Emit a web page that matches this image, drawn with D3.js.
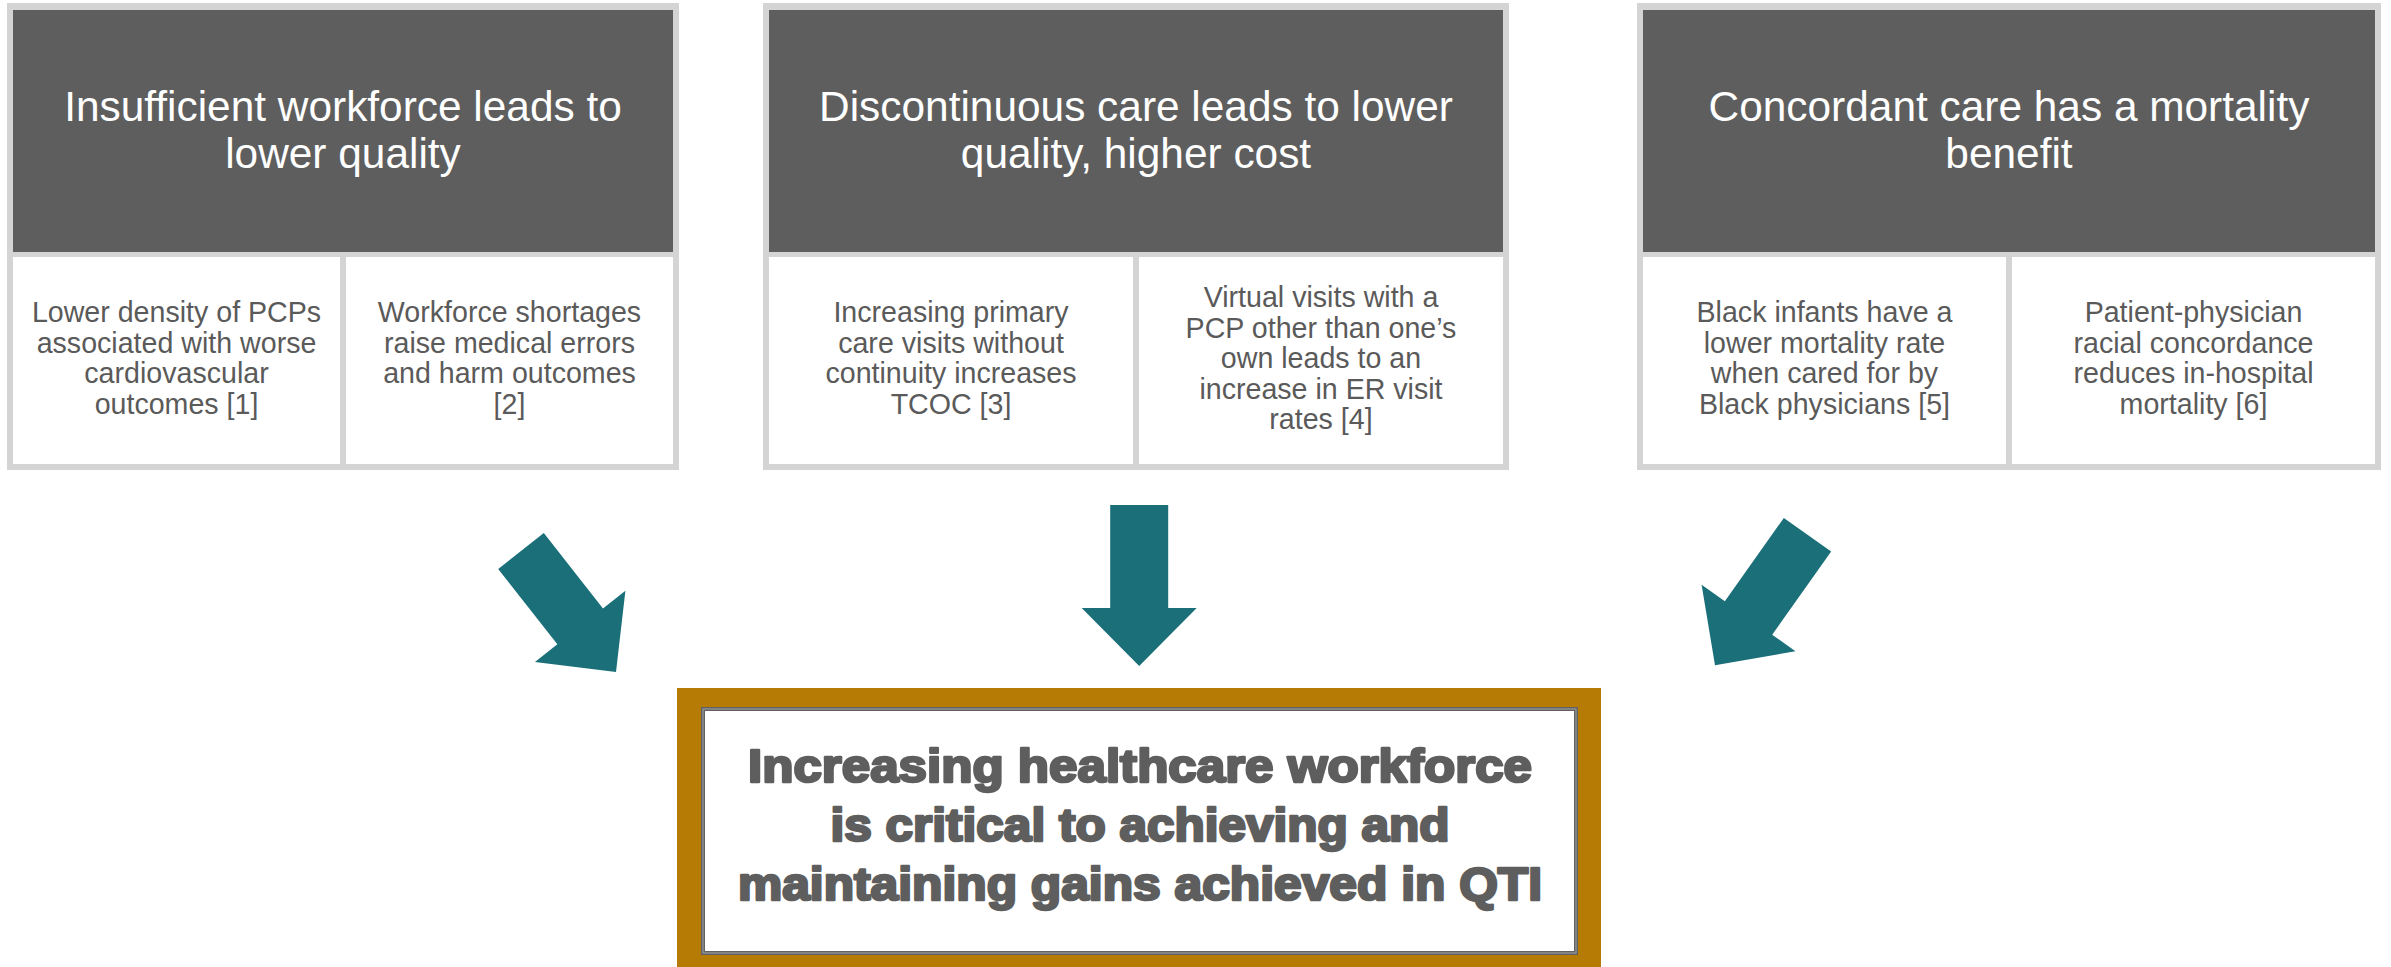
<!DOCTYPE html>
<html>
<head>
<meta charset="utf-8">
<script src="https://cdn.jsdelivr.net/npm/d3@7"></script>
<style>
  html, body { margin: 0; padding: 0; background: #ffffff; }
  svg { display: block; }
</style>
</head>
<body>
<div id="chart"></div>
<script>
// ---------- data ----------
const panelTitles = [
  ["Insufficient workforce leads to", "lower quality"],
  ["Discontinuous care leads to lower", "quality, higher cost"],
  ["Concordant care has a mortality", "benefit"]
];
const leftFindings = [
  ["Lower density of PCPs", "associated with worse", "cardiovascular", "outcomes [1]"],
  ["Increasing primary", "care visits without", "continuity increases", "TCOC [3]"],
  ["Black infants have a", "lower mortality rate", "when cared for by", "Black physicians [5]"]
];
const rightFindings = [
  ["Workforce shortages", "raise medical errors", "and harm outcomes", "[2]"],
  ["Virtual visits with a", "PCP other than one\u2019s", "own leads to an", "increase in ER visit", "rates [4]"],
  ["Patient-physician", "racial concordance", "reduces in-hospital", "mortality [6]"]
];
const conclusion = [
  "Increasing healthcare workforce",
  "is critical to achieving and",
  "maintaining gains achieved in QTI"
];

// ---------- layout (positions / styles) ----------
const W = 2391, H = 967;
const panelX = [[7, 679], [763, 1509], [1637, 2381]];  // outer x extents
const outerTop = 3, outerBottom = 470, border = 6;
const headerTop = 10, headerBottom = 252, cellTop = 257, cellBottom = 464;
const colors = {
  border: "#d4d4d4", header: "#5e5e5e", cellText: "#5a5a5a",
  arrow: "#1a6f79", gold: "#b67b05", frame: "#616161", frameMid: "#9a9a9a",
  conclusion: "#5e5e5e"
};
// arrows: tail centre and tip
const arrows = [
  { tail: [521, 551], tip: [616, 672] },
  { tail: [1139.2, 505], tip: [1139.2, 666] },
  { tail: [1807.5, 534.7], tip: [1715, 665.3] }
];
const shaftW = 58, headW = 115, headL = 58;

const svg = d3.select("#chart").append("svg")
  .attr("width", W).attr("height", H)
  .attr("viewBox", `0 0 ${W} ${H}`);

const font = "'Liberation Sans', Arial, Helvetica, sans-serif";

function multiline(sel, lines, cx, cy, size, lh, offset) {
  const n = lines.length;
  sel.selectAll("text.l").data(lines).join("text")
    .attr("class", "l")
    .attr("x", cx)
    .attr("y", (d, i) => cy + offset + (i - (n - 1) / 2) * lh)
    .attr("text-anchor", "middle")
    .attr("font-family", font)
    .attr("font-size", size)
    .text(d => d);
}

// ---------- panels ----------
const panels = svg.selectAll("g.panel")
  .data(panelTitles.map((t, i) => ({ title: t, left: leftFindings[i], right: rightFindings[i], x: panelX[i] })))
  .join("g").attr("class", "panel");

panels.append("rect")
  .attr("x", d => d.x[0]).attr("y", outerTop)
  .attr("width", d => d.x[1] - d.x[0]).attr("height", outerBottom - outerTop)
  .attr("fill", colors.border);

panels.append("rect")
  .attr("x", d => d.x[0] + border).attr("y", headerTop)
  .attr("width", d => d.x[1] - d.x[0] - 2 * border).attr("height", headerBottom - headerTop)
  .attr("fill", colors.header);

panels.each(function (d) {
  const g = d3.select(this);
  const x0 = d.x[0] + border, x1 = d.x[1] - border, mid = (x0 + x1) / 2;
  const cells = [
    { x: x0, w: mid - 3 - x0, lines: d.left },
    { x: mid + 3, w: x1 - mid - 3, lines: d.right }
  ];
  g.selectAll("rect.cell").data(cells).join("rect")
    .attr("class", "cell")
    .attr("x", c => c.x).attr("y", cellTop)
    .attr("width", c => c.w).attr("height", cellBottom - cellTop)
    .attr("fill", "#ffffff");

  const ht = g.append("g").attr("fill", "#ffffff");
  multiline(ht, d.title, mid, (headerTop + headerBottom) / 2, 42.4, 47.6, 13.5);

  cells.forEach(c => {
    const ct = g.append("g").attr("fill", colors.cellText);
    multiline(ct, c.lines, c.x + c.w / 2, (cellTop + cellBottom) / 2, 28.6, 30.5, 7.5);
  });
});

// ---------- arrows ----------
const line = d3.line();
function arrowPoly(a) {
  const [tx, ty] = a.tail, [px, py] = a.tip;
  const L = Math.hypot(px - tx, py - ty);
  const ux = (px - tx) / L, uy = (py - ty) / L;
  const nx = -uy, ny = ux;
  const bx = px - ux * headL, by = py - uy * headL;
  const sw = shaftW / 2, hw = headW / 2;
  return [
    [tx + nx * sw, ty + ny * sw],
    [bx + nx * sw, by + ny * sw],
    [bx + nx * hw, by + ny * hw],
    [px, py],
    [bx - nx * hw, by - ny * hw],
    [bx - nx * sw, by - ny * sw],
    [tx - nx * sw, ty - ny * sw]
  ];
}
svg.selectAll("path.arrow").data(arrows).join("path")
  .attr("class", "arrow")
  .attr("d", d => line(arrowPoly(d)) + "Z")
  .attr("fill", colors.arrow);

// ---------- conclusion box ----------
const box = { x0: 677, x1: 1601, y0: 688, y1: 975 };
const frame = { x0: 701, x1: 1578, y0: 707, y1: 955 };
svg.append("rect")
  .attr("x", box.x0).attr("y", box.y0)
  .attr("width", box.x1 - box.x0).attr("height", box.y1 - box.y0)
  .attr("fill", colors.gold);
[[0, colors.frame], [1.4, colors.frameMid], [2.6, colors.frame], [4, "#ffffff"]].forEach(([ins, c]) => {
  svg.append("rect")
    .attr("x", frame.x0 + ins).attr("y", frame.y0 + ins)
    .attr("width", frame.x1 - frame.x0 - 2 * ins).attr("height", frame.y1 - frame.y0 - 2 * ins)
    .attr("fill", c);
});
const conclusionWidths = [784, 619, 804];
const cg = svg.append("g");
cg.selectAll("text").data(conclusion).join("text")
  .attr("x", 1140)
  .attr("y", (d, i) => 781.7 + i * 59.1)
  .attr("text-anchor", "middle")
  .attr("font-family", font)
  .attr("font-weight", "bold")
  .attr("font-size", 46)
  .attr("fill", colors.conclusion)
  .attr("stroke", colors.conclusion)
  .attr("stroke-width", 2.6)
  .attr("stroke-linejoin", "round")
  .attr("textLength", (d, i) => conclusionWidths[i])
  .attr("lengthAdjust", "spacingAndGlyphs")
  .text(d => d);
</script>
</body>
</html>
